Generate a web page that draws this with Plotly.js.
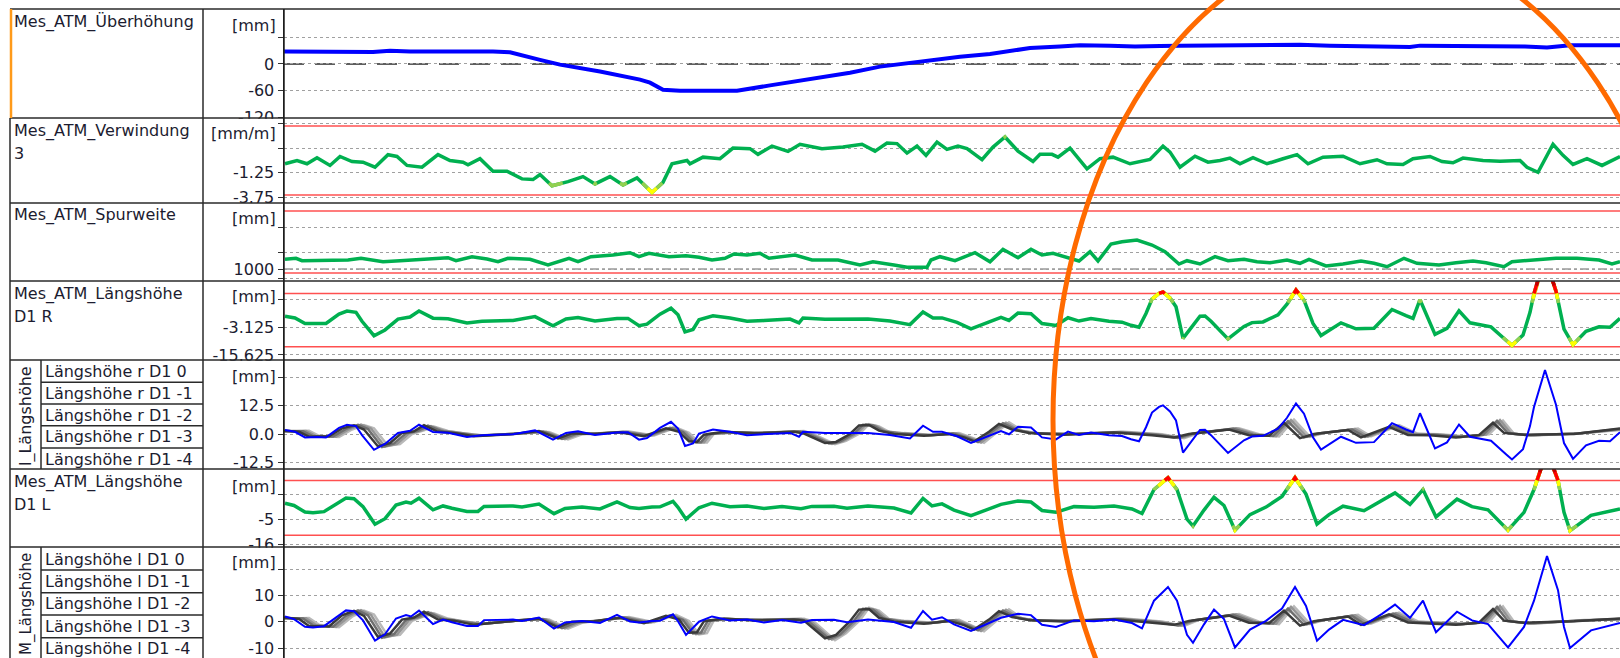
<!DOCTYPE html>
<html><head><meta charset="utf-8">
<script src="https://cdn.plot.ly/plotly-3.0.1.min.js"></script>
<style>html,body{margin:0;padding:0;background:#fff;}#chart{width:1620px;height:658px;}</style>
</head><body><div id="chart"></div>
<script>
// ---------------- data (position along track, arbitrary units) ----------------
const posUeb = [0,89,106,126,209,226,256,276,316,356,366,379,396,453,486,516,566,596,616,646,676,706,726,746,776,796,826,851,876,896,1016,1046,1126,1136,1241,1263,1276,1286,1336];
const ueberhoehung = [28,26.5,29.5,28,28,26,9,-1.6,-17,-35,-42,-58,-60,-60,-48,-37,-19.5,-6,0,7.4,16,22.5,30,35.5,39,41.6,41,39,40,41,43,41,38,41,39,36.6,39.5,42,42];

const posVerw = [1,13,23,33,46,56,68,79,91,104,113,123,138,154,166,179,184,196,209,223,238,249,256,268,284,299,311,326,339,353,368,379,388,403,406,419,436,449,466,474,488,504,516,538,559,578,591,603,613,623,633,642,653,663,674,683,698,709,721,734,749,756,768,774,786,803,816,829,846,866,879,886,896,911,924,936,946,956,969,983,999,1013,1024,1039,1059,1076,1093,1103,1119,1129,1146,1158,1169,1179,1199,1216,1236,1243,1254,1261,1269,1279,1289,1303,1318,1336];
const verwindung = [-0.33,0,-0.33,0.28,-0.5,0.41,-0.1,-0.17,-0.68,0.59,0.41,-0.5,-0.68,0.59,0,-0.17,-0.43,0.18,-1.09,-1.09,-1.86,-1.93,-1.42,-2.55,-2.14,-1.63,-2.37,-1.63,-2.47,-1.76,-3.23,-2.21,-0.33,0,-0.33,0.34,0.18,1.26,1.2,0.62,1.46,0.92,1.64,1.2,1.36,1.64,0.95,1.77,1.71,0.75,1.46,0.52,1.87,1.13,1.46,1.2,0.08,1.36,2.38,0.95,-0.1,0.62,0.62,0.34,1.26,-0.84,0.18,0.34,-0.33,0.1,1.46,0.85,-0.68,0.44,-0.17,0,0.24,-0.33,0.28,-0.33,0.18,0.59,-0.33,0.34,0.44,-0.33,0.08,-0.33,-0.4,0.18,0.41,-0.1,-0.23,0.24,0,-0.07,0,-0.68,-1.19,0.18,1.64,0.52,-0.4,0.18,-0.5,0.41];

const posSpur = [1,12,18,64,77,99,116,125,164,172,188,203,214,224,246,264,285,294,307,329,346,355,365,385,402,415,428,441,450,463,476,485,511,528,554,576,589,610,623,643,647,656,671,691,706,719,734,747,758,769,784,795,806,814,827,838,853,868,881,895,903,916,931,944,960,973,986,1003,1016,1025,1042,1059,1077,1090,1103,1120,1133,1155,1172,1189,1202,1220,1228,1254,1272,1293,1315,1328,1336];
const spurweite = [1009.7,1010.7,1008.3,1009,1010.7,1007.3,1008.3,1009,1011.3,1008.3,1012.3,1010,1007.3,1010.7,1009.7,1004,1010.7,1007.3,1012.3,1014,1016.3,1012.3,1015.7,1012.3,1013.3,1011.7,1009,1010.7,1015,1014,1015.7,1010.7,1014,1009,1009,1004,1007.3,1004,1001.7,1001.7,1009,1012.3,1008.3,1016.3,1007.3,1019.7,1011.3,1019.7,1014,1015.7,1011.3,1008,1017.3,1008,1025,1027.3,1029,1024,1017.3,1005,1008.3,1005,1012.3,1008.3,1009.7,1007.3,1006.3,1009,1005.7,1009.7,1003,1005,1008,1005.7,1002.3,1010.7,1005.7,1004,1006.3,1008,1006.3,1002.3,1007.3,1009,1010.7,1010.7,1009,1005,1007.3];

// right rail, current run (D1 0)
const posR0 = [1,11,21,33,42,55,63,72,78,90,101,114,126,135,149,164,183,198,229,251,269,282,294,311,333,344,355,363,376,387,394,401,409,415,429,446,463,480,506,515,519,541,584,606,626,639,649,658,673,687,702,717,725,734,747,758,772,784,795,807,825,838,847,855,862,868,875,879,886,892,899,916,921,927,944,960,968,979,994,1003,1012,1020,1029,1037,1057,1072,1090,1108,1122,1129,1136,1151,1163,1175,1186,1207,1222,1228,1239,1246,1250,1261,1272,1280,1289,1302,1315,1326,1336];
const lhR0 = [1.8,1.0,-1.5,-1.3,-1.5,2.7,4.1,3.5,-0.5,-7.0,-4.4,0.5,1.4,4.1,0.9,0.6,-1.3,-0.5,-0.1,1.6,-2.5,0.5,1.2,-0.4,0.7,0.8,-2.5,-1.8,2.7,5.4,2.4,-5.3,-4.2,0.2,2.0,1.0,-0.5,-0.2,0.5,-1.2,1.0,0.4,0.5,-0.4,-2.0,3.7,1.0,1.0,-1.0,-3.9,-1.2,1.3,-0.1,3.2,2.9,-1.5,-2.4,1.1,-0.4,0.7,-0.5,-0.9,-2.3,-3.2,3.0,9.5,12.0,12.7,10.0,6.0,-8.2,1.8,1.9,-0.5,-8.4,-2.8,-1.1,-0.8,2.4,7.2,13.5,9.0,-1.5,-6.9,-1.2,-3.9,-3.6,4.8,2.0,0.8,9.2,-6.4,-3.7,4.2,-1.2,-3.0,-9.0,-11.3,-6.7,3.5,12,28.4,13,-4,-11.0,-5.0,-3.0,-3.2,0.8];

// left rail, current run (D1 0)
const posL0 = [1,10,21,29,40,48,62,70,79,91,101,112,122,127,135,149,159,168,183,194,200,229,238,255,270,281,298,316,333,346,355,368,376,389,394,402,415,428,446,463,480,498,517,528,550,563,584,610,627,639,648,658,670,687,702,717,734,747,758,772,790,810,830,848,858,870,884,893,903,909,920,930,940,951,966,982,998,1011,1022,1033,1045,1059,1080,1098,1111,1126,1139,1152,1173,1188,1204,1224,1240,1250,1263,1274,1280,1286,1307,1336];
const lhL0 = [2.0,1.0,-1.9,-2.2,-1.7,0.5,4.3,4.0,0.5,-7.2,-4.8,1.2,2.5,2.0,4.2,-0.9,0.8,-0.2,-1.6,-1.6,0.6,0.8,0.3,1.6,-2.6,-0.3,0.3,-0.5,2.6,0.1,-0.3,0.3,0.4,2.8,0.2,-5.0,0.0,2.0,0.5,0.8,-0.3,0.6,-0.4,0.6,0.7,-0.2,0.8,-0.1,-2.3,4.1,0.8,1.7,-1.0,-3.5,-1.0,1.5,3.0,2.5,-1.2,-2.0,0.5,0.2,0.8,-0.5,-2.5,8.0,13.2,8.0,-5.0,-8.0,-1.0,4.6,1.0,-9.8,-3.0,0.3,5.0,13.2,6.0,-7.2,-3.0,0.7,-1.3,3.0,6.5,1.5,8.0,-4.0,3.8,0.5,-0.9,-9.8,-2.0,8.0,25.0,12.0,-2.0,-10.0,-3.3,-0.5];

// earlier runs (D1 -1 .. D1 -4): sample positions
const posM1 = [0,15,25,45,58,70,80,94,106,118,130,140,154,170,190,230,255,274,288,310,335,360,382,395,405,413,420,440,470,510,520,541,552,566,575,585,595,610,640,665,680,690,705,715,728,745,780,830,868,890,905,945,965,985,1000,1016,1030,1064,1077,1105,1124,1146,1172,1195,1209,1220,1240,1290,1336];
const posM2 = [0,19,29,49,62,74,84,98,110,122,134,144,158,174,194,234,259,278,292,314,339,364,386,399,409,417,424,444,474,514,524,545,556,570,579,589,599,614,644,669,684,694,709,719,732,749,784,834,872,894,909,949,969,989,1004,1020,1034,1068,1081,1109,1128,1150,1176,1199,1213,1224,1244,1294,1336];
const posM3 = [0,22,32,52,65,77,87,101,113,125,137,147,161,177,197,237,262,281,295,317,342,367,389,402,412,420,427,447,477,517,527,548,559,573,582,592,602,617,647,672,687,697,712,722,735,752,787,837,875,897,912,952,972,992,1007,1023,1037,1071,1084,1112,1131,1153,1179,1202,1216,1227,1247,1297,1336];
const posM4 = [0,25,35,55,68,80,90,104,116,128,140,150,164,180,200,240,265,284,298,320,345,370,392,405,415,423,430,450,480,520,530,551,562,576,585,595,605,620,650,675,690,700,715,725,738,755,790,840,878,900,915,955,975,995,1010,1026,1040,1074,1087,1115,1134,1156,1182,1205,1219,1230,1250,1300,1336];

const lhR1 = [1.5,1.0,-1.2,-1.0,2.5,3.9,2.0,-5.5,-4.0,0.5,1.2,3.9,1.0,0.5,-1.0,0,1.3,-2.0,0.3,0,0.8,-1.0,2.5,1.0,-3.2,-3.5,-0.3,1.0,0.3,1.0,0.2,-4.0,-3.5,0.0,3.8,4.0,1.5,0.0,-0.8,0,-1.5,-3.3,1.0,4.5,2.0,0.5,-0.3,0.7,-0.5,-1.5,0,2.0,-0.5,-0.8,5.0,-1.8,0,1.8,-1.5,3.2,-0.4,-0.5,-1.5,-0.5,5.0,0.5,-0.3,0,2.5];
const lhR2 = [1.3,1.2,-1.0,-1.1,2.3,4.1,2.2,-5.8,-4.2,0.3,1.4,3.7,1.2,0.4,-0.8,0.2,1.1,-2.2,0.1,0.2,0.9,-0.8,2.7,0.8,-3.5,-3.6,-0.1,0.8,0.4,1.1,0,-4.2,-3.3,0.2,4.1,3.8,1.3,0.2,-0.6,0.2,-1.7,-3.6,1.2,4.8,1.8,0.4,-0.1,0.8,-0.3,-1.7,0.2,2.3,-0.3,-0.9,5.6,-1.5,0.2,2.0,-1.3,3.5,-0.2,-0.3,-1.3,-0.3,5.8,0.3,-0.5,0.2,2.2];
const lhR3 = [1.2,1.3,-0.9,-1.2,2.1,4.2,2.4,-5.6,-4.4,0.2,1.5,3.5,1.3,0.3,-0.7,0.3,1.0,-2.3,0,0.3,1.0,-0.7,2.8,0.6,-3.7,-3.7,0,0.7,0.5,1.2,-0.1,-4.4,-3.1,0.3,4.3,3.6,1.1,0.3,-0.5,0.3,-1.8,-3.8,1.3,5.0,1.6,0.3,0,0.9,-0.2,-1.8,0.3,2.5,-0.2,-1.0,6.2,-1.3,0.3,2.2,-1.1,3.7,0,-0.2,-1.2,-0.2,6.2,0.2,-0.6,0.3,2.0];
const lhR4 = [1.0,1.4,-0.8,-1.3,2.0,4.0,2.5,-5.2,-4.5,0,1.6,3.3,1.4,0.2,-0.6,0.4,0.9,-2.4,-0.1,0.4,1.1,-0.6,2.9,0.5,-3.8,-3.8,0.1,0.6,0.6,1.3,-0.2,-4.5,-3.0,0.4,4.4,3.4,1.0,0.4,-0.4,0.4,-1.9,-3.9,1.4,5.2,1.5,0.2,0.1,1.0,-0.1,-1.9,0.4,2.6,-0.1,-1.1,6.4,-1.2,0.4,2.4,-1.0,3.9,0.1,-0.1,-1.1,-0.1,6.0,0.1,-0.7,0.4,1.8];

const lhL1 = [1.6,1.0,-1.6,-1.8,2.4,4.1,2.2,-5.8,-4.5,0.8,1.6,3.8,0.8,0.4,-1.2,0.3,1.2,-2.2,0,0.2,1.5,-0.6,2.2,0.8,-4.2,-4.0,0.2,1.2,0.5,0.8,0.4,-6.3,-5.0,0.2,4.6,4.8,1.5,0.0,-0.8,0.3,-1.3,-3.0,0.8,4.0,1.8,0.6,0.1,0.9,-0.3,-1.2,0.3,2.3,-0.4,-0.6,4.2,-1.5,0.2,2.0,-1.2,2.8,-0.3,-0.8,-1.2,-0.4,4.8,0.4,-0.4,0.2,1.2];
const lhL2 = [1.4,1.2,-1.4,-1.9,2.2,4.3,2.4,-6.1,-4.7,0.6,1.8,3.6,1.0,0.3,-1.0,0.5,1.0,-2.4,-0.2,0.4,1.6,-0.4,2.4,0.6,-4.5,-4.1,0.4,1.0,0.6,0.9,0.2,-6.6,-4.8,0.4,4.9,4.6,1.3,0.2,-0.6,0.5,-1.5,-3.3,1.0,4.3,1.6,0.5,0.3,1.0,-0.1,-1.4,0.5,2.6,-0.2,-0.7,5.0,-1.2,0.4,2.2,-1.0,3.1,-0.1,-0.6,-1.0,-0.2,5.6,0.2,-0.6,0.4,1.0];
const lhL3 = [1.3,1.3,-1.3,-2.0,2.0,4.4,2.6,-5.9,-4.9,0.5,1.9,3.4,1.1,0.2,-0.9,0.6,0.9,-2.5,-0.3,0.5,1.7,-0.3,2.5,0.4,-4.7,-4.2,0.5,0.9,0.7,1.0,0.1,-6.8,-4.6,0.5,5.1,4.4,1.1,0.3,-0.5,0.6,-1.6,-3.5,1.1,4.5,1.4,0.4,0.4,1.1,0,-1.5,0.6,2.8,-0.1,-0.8,5.6,-1.0,0.5,2.4,-0.8,3.3,0,-0.5,-0.9,-0.1,6.0,0.1,-0.7,0.5,0.9];
const lhL4 = [1.1,1.4,-1.2,-2.1,1.9,4.2,2.7,-5.5,-5.0,0.3,2.0,3.2,1.2,0.1,-0.8,0.7,0.8,-2.6,-0.4,0.6,1.8,-0.2,2.6,0.3,-4.8,-4.3,0.6,0.8,0.8,1.1,0,-7.0,-4.4,0.6,5.3,4.2,1.0,0.4,-0.4,0.7,-1.7,-3.6,1.2,4.7,1.3,0.3,0.5,1.2,0.1,-1.6,0.7,2.9,0,-0.9,5.8,-0.9,0.6,2.6,-0.7,3.5,0.1,-0.4,-0.8,0,5.8,0,-0.8,0.6,0.8];

// limits / reference values
const limVerw = [3.5, -3.5];
const limSpur = [1058, 996];
const spurNominal = 1000;
const limLH = [12, -12];

// labels
const panelTitles = [["Mes_ATM_Überhöhung"],["Mes_ATM_Verwindung","3"],["Mes_ATM_Spurweite"],["Mes_ATM_Längshöhe","D1 R"],null,["Mes_ATM_Längshöhe","D1 L"],null];
const unitLabels = ["[mm]","[mm/m]","[mm]","[mm]","[mm]","[mm]","[mm]"];
const rowLabelsR = ["Längshöhe r D1 0","Längshöhe r D1 -1","Längshöhe r D1 -2","Längshöhe r D1 -3","Längshöhe r D1 -4"];
const rowLabelsL = ["Längshöhe l D1 0","Längshöhe l D1 -1","Längshöhe l D1 -2","Längshöhe l D1 -3","Längshöhe l D1 -4"];
const groupLabels = ["l_Längshöhe","M_Längshöhe"];

// ---------------- layout helpers ----------------
const W=1620,H=658;
const X=px=>px/W, Y=py=>1-py/H;
const rows=[9,118,203,281,360,469,547,658];
const PLOTL=284;
const FONT="'DejaVu Sans', Verdana, sans-serif";
const TXT='#1c1c30';
const GREEN='#00b050', LGREEN='#92d050', YELLOW='#ffff00', RED='#ff0000', DRED='#c00000', BLUE='#0000ff';
const GRAYS=['#3a3a3a','#6f6f6f','#959595','#b9b9b9'];

function bands(xs, ys, T){
  const ox=[], oy=[]; let open=false;
  for(let i=0;i<xs.length-1;i++){
    const x0=xs[i],x1=xs[i+1],y0=ys[i],y1=ys[i+1];
    const ts=[0,1];
    [T,-T].forEach(t=>{ if((y0-t)*(y1-t)<0) ts.push((t-y0)/(y1-y0)); });
    ts.sort((a,b)=>a-b);
    for(let k=0;k<ts.length-1;k++){
      const a=ts[k], b=ts[k+1], m=(a+b)/2;
      if(Math.abs(y0+(y1-y0)*m)>=T){
        if(!open){ ox.push(x0+(x1-x0)*a); oy.push(y0+(y1-y0)*a); open=true; }
        ox.push(x0+(x1-x0)*b); oy.push(y0+(y1-y0)*b);
      } else if(open){ ox.push(null); oy.push(null); open=false; }
    }
  }
  return {x:ox,y:oy};
}
const traces=[];
function line(x,y,ax,color,width){ return {type:'scatter',mode:'lines',x:x,y:y,xaxis:'x',yaxis:ax,line:{color:color,width:width},hoverinfo:'skip',connectgaps:false,showlegend:false}; }
function colored(x,y,ax,L){
  traces.push(line(x,y,ax,GREEN,3.5));
  [[0.65,LGREEN],[0.8,YELLOW],[1.0,RED],[1.3,DRED]].forEach(([f,c])=>{
    const b=bands(x,y,f*L); if(b.x.length) traces.push(line(b.x,b.y,ax,c,3.5));
  });
}

traces.push(line(posUeb,ueberhoehung,'y',BLUE,4));
colored(posVerw,verwindung,'y2',limVerw[0]);
traces.push(line(posSpur,spurweite,'y3',GREEN,3.5));
colored(posR0,lhR0,'y4',limLH[0]);
[[posM4,lhR4,3],[posM3,lhR3,2],[posM2,lhR2,1],[posM1,lhR1,0]].forEach(([p,v,g])=>traces.push(line(p,v,'y5',GRAYS[g],2.5)));
traces.push(line(posR0,lhR0,'y5',BLUE,2));
colored(posL0,lhL0,'y6',limLH[0]);
[[posM4,lhL4,3],[posM3,lhL3,2],[posM2,lhL2,1],[posM1,lhL1,0]].forEach(([p,v,g])=>traces.push(line(p,v,'y7',GRAYS[g],2.5)));
traces.push(line(posL0,lhL0,'y7',BLUE,2));

function yax(k, range, tv, tt){
  return {domain:[Y(rows[k+1]),Y(rows[k])], range:range, anchor:'x', tickmode:'array', tickvals:tv, ticktext:tt,
    showgrid:true, gridcolor:'#a0a0a0', griddash:'dot', gridwidth:1, zeroline:false,
    showline:true, linecolor:'#1e1e1e', linewidth:1.5, ticks:'outside', ticklen:5, tickwidth:1, tickcolor:'#333',
    tickfont:{family:FONT,size:16,color:TXT}, fixedrange:true};
}

const shapes=[];
const annotations=[];
// limit / reference lines
function hline(ax,v,color,width,dash){ shapes.push({type:'line',xref:'x',x0:0,x1:1336,yref:ax,y0:v,y1:v,line:{color:color,width:width,dash:dash||'solid'},layer:'below'}); }
hline('y',0,'#2a2a2a',1.6,'20px,11px');
limVerw.forEach(v=>hline('y2',v,'#ff5050',1.5));
limSpur.forEach(v=>hline('y3',v,'#ff5050',1.5));
hline('y3',spurNominal,'#9a9a9a',1.5,'dashdot');
limLH.forEach(v=>hline('y4',v,'#ff5050',1.5));
limLH.forEach(v=>hline('y6',v,'#ff5050',1.5));

// white masks to clip tick labels spilling below a divider
rows.slice(1,7).forEach(r=>shapes.push({type:'rect',xref:'paper',yref:'paper',x0:X(204),x1:X(278),y0:Y(r+10),y1:Y(r+0.8),fillcolor:'#fff',line:{width:0},layer:'above'}));

function pl(x0,y0,x1,y1,color,width){ shapes.push({type:'line',xref:'paper',yref:'paper',x0:X(x0),y0:Y(y0),x1:X(x1),y1:Y(y1),line:{color:color,width:width},layer:'above'}); }
rows.slice(0,7).forEach(r=>pl(10,r,W,r,'#2a2a2a',1.5));
pl(10,118,10,H,'#2a2a2a',1.5);
pl(11,9,11,118,'#ff9a1a',2.5);
pl(203,9,203,H,'#2a2a2a',1.5);
pl(PLOTL,9,PLOTL,H,'#1e1e1e',1.5);
// sub-tables
[[360,469,[382.3,404,425.7,448]],[547,658,[570,592.7,615,637.7]]].forEach(([t,b,rs])=>{
  pl(41,t,41,b,'#2a2a2a',1.5);
  rs.forEach(r=>pl(41,r,203,r,'#2a2a2a',1.5));
});
// annotation ellipse
shapes.push({type:'circle',xref:'paper',yref:'paper',x0:X(1053),x1:X(1691),y0:Y(897),y1:Y(-57),line:{color:'#ff6a00',width:5},layer:'above'});

// labels
function ann(text,x,y,xa,size,angle){ annotations.push({text:text,xref:'paper',yref:'paper',x:X(x),y:Y(y),xanchor:xa,yanchor:'middle',showarrow:false,textangle:angle||0,font:{family:FONT,size:size,color:TXT}}); }
const titleY=[[22],[131.5,153.5],[215],[293.5,316],null,[481.5,504],null];
panelTitles.forEach((t,i)=>{ if(t) t.forEach((s,j)=>ann(s,12,titleY[i][j],'left',16)); });
const unitY=[26,133,218,296.5,376.5,486,562];
unitLabels.forEach((u,i)=>ann(u,278,unitY[i],'right',16));
[371.5,393.3,415,436.8,459].forEach((y,i)=>ann(rowLabelsR[i],43,y,'left',16));
[559.3,581.5,603.8,626.3,648.5].forEach((y,i)=>ann(rowLabelsL[i],43,y,'left',16));
ann(groupLabels[0],26,416,'center',16,-90);
ann(groupLabels[1],26,604,'center',15,-90);

const layout={width:W,height:H,margin:{l:0,r:0,t:0,b:0,pad:0},paper_bgcolor:'#fff',plot_bgcolor:'rgba(0,0,0,0)',showlegend:false,hovermode:false,
  xaxis:{domain:[X(PLOTL),1],range:[0,1336],anchor:'y7',visible:false,fixedrange:true},
  yaxis: yax(0,[-121,123],[60,0,-60,-120],["","0","-60","-120"]),
  yaxis2:yax(1,[-4.3,4.3],[3.75,1.25,-1.25,-3.75],["","","-1.25","-3.75"]),
  yaxis3:yax(2,[988,1066],[1042,1017,1000,991],["","","1000",""]),
  yaxis4:yax(3,[-17.9,17.6],[9.375,-3.125,-15.625],["","-3.125","-15.625"]),
  yaxis5:yax(4,[-15.5,32.8],[25,12.5,0,-12.5],["","12.5","0.0","-12.5"]),
  yaxis6:yax(5,[-17.2,17],[6,-5,-16],["","-5","-16"]),
  yaxis7:yax(6,[-13.8,28.4],[20,10,0,-10],["","10","0","-10"]),
  shapes:shapes, annotations:annotations};
Plotly.newPlot('chart',traces,layout,{staticPlot:true,displayModeBar:false});
</script>
</body></html>
